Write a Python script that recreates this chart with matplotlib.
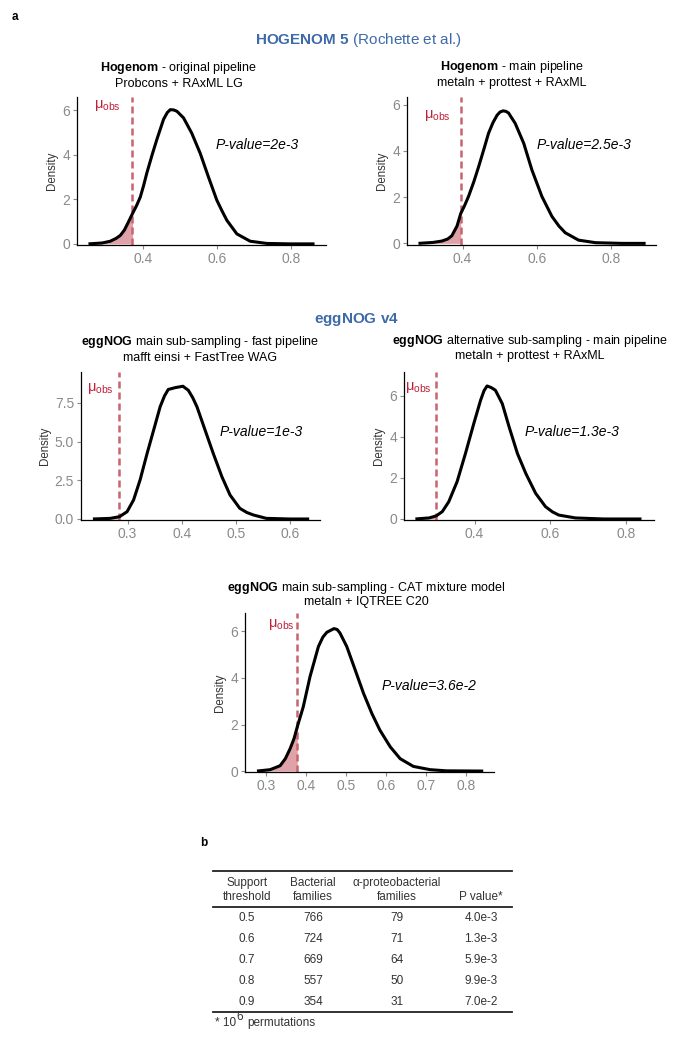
"""Permutation null distributions of mean alpha-proteobacterial support (figure panels a and b)."""
import matplotlib
matplotlib.use('Agg')
import matplotlib.pyplot as plt
import numpy as np

plt.rcParams['font.family'] = ['Liberation Sans', 'DejaVu Sans']
plt.rcParams['mathtext.fontset'] = 'custom'
plt.rcParams['mathtext.rm'] = 'Liberation Sans'
plt.rcParams['mathtext.bf'] = 'Liberation Sans:bold'
plt.rcParams['mathtext.it'] = 'Liberation Sans:italic'

W, H = 684, 1049

# density curves (x = mean support, y = density)
hog_orig_x = [0.253, 0.290, 0.312, 0.328, 0.339, 0.350, 0.360, 0.372, 0.383, 0.393, 0.402, 0.411, 0.425,
              0.438, 0.456, 0.466, 0.474, 0.483, 0.492, 0.510, 0.532, 0.555, 0.577, 0.600, 0.614, 0.627,
              0.654, 0.690, 0.735, 0.800, 0.864]
hog_orig_y = [0.00, 0.04, 0.12, 0.25, 0.38, 0.62, 0.95, 1.36, 1.72, 2.10, 2.62, 3.20, 4.00,
              4.70, 5.60, 5.90, 6.03, 6.02, 5.96, 5.66, 4.98, 4.07, 3.02, 1.96, 1.48, 1.06,
              0.45, 0.12, 0.02, 0.00, 0.00]

hog_main_x = [0.281, 0.320, 0.344, 0.360, 0.371, 0.385, 0.395, 0.405, 0.416, 0.430, 0.443, 0.458, 0.470,
              0.482, 0.493, 0.501, 0.509, 0.517, 0.524, 0.542, 0.565, 0.587, 0.614, 0.641, 0.660, 0.677,
              0.713, 0.759, 0.830, 0.894]
hog_main_y = [0.00, 0.04, 0.10, 0.19, 0.33, 0.75, 1.29, 1.62, 2.03, 2.65, 3.30, 4.10, 4.76,
              5.22, 5.54, 5.68, 5.73, 5.71, 5.64, 5.19, 4.33, 3.18, 2.03, 1.17, 0.75, 0.46,
              0.14, 0.03, 0.00, 0.00]

egg_fast_x = [0.236, 0.268, 0.285, 0.299, 0.311, 0.323, 0.336, 0.348, 0.360, 0.368, 0.375, 0.388,
              0.402, 0.412, 0.420, 0.428, 0.443, 0.458, 0.474, 0.489, 0.507, 0.520, 0.532, 0.556, 0.600, 0.635]
egg_fast_y = [0.00, 0.04, 0.15, 0.47, 1.23, 2.52, 4.24, 5.74, 7.25, 7.95, 8.37, 8.49,
              8.58, 8.32, 7.85, 7.25, 5.74, 4.24, 2.73, 1.55, 0.69, 0.42, 0.26, 0.04, 0.00, 0.00]

egg_alt_x = [0.244, 0.280, 0.299, 0.315, 0.332, 0.354, 0.376, 0.398, 0.416, 0.425, 0.433, 0.444,
             0.455, 0.473, 0.491, 0.513, 0.535, 0.561, 0.587, 0.605, 0.622, 0.666, 0.740, 0.840]
egg_alt_y = [0.00, 0.05, 0.15, 0.36, 0.84, 1.82, 3.19, 4.65, 5.79, 6.25, 6.48, 6.40,
             6.27, 5.62, 4.49, 3.19, 2.22, 1.25, 0.60, 0.35, 0.19, 0.05, 0.00, 0.00]

egg_cat_x = [0.277, 0.310, 0.335, 0.348, 0.360, 0.370, 0.378, 0.393, 0.410, 0.431, 0.442, 0.452, 0.462,
             0.470, 0.478, 0.485, 0.502, 0.523, 0.544, 0.565, 0.585, 0.611, 0.636, 0.669, 0.711, 0.752, 0.844]
egg_cat_y = [0.00, 0.06, 0.23, 0.53, 0.96, 1.40, 1.90, 2.76, 4.06, 5.35, 5.75, 5.96, 6.05,
             6.12, 6.08, 5.93, 5.35, 4.35, 3.34, 2.47, 1.76, 1.04, 0.53, 0.20, 0.06, 0.01, 0.00]

# observed means (dashed line) and p-values
mu_obs = [0.372, 0.395, 0.285, 0.299, 0.378]
p_values = ['2e-3', '2.5e-3', '1e-3', '1.3e-3', '3.6e-2']

titles_bold = ['Hogenom', 'Hogenom', 'eggNOG', 'eggNOG', 'eggNOG']
titles_rest = [' - original pipeline', ' - main pipeline', ' main sub-sampling - fast pipeline',
               ' alternative sub-sampling - main pipeline', ' main sub-sampling - CAT mixture model']
titles_line2 = ['Probcons + RAxML LG', 'metaln + prottest + RAxML', 'mafft einsi + FastTree WAG',
                'metaln + prottest + RAxML', 'metaln + IQTREE C20']

# table b
support_threshold = ['0.5', '0.6', '0.7', '0.8', '0.9']
bacterial_families = ['766', '724', '669', '557', '354']
alpha_families = ['79', '71', '64', '50', '31']
table_pvalues = ['4.0e-3', '1.3e-3', '5.9e-3', '9.9e-3', '7.0e-2']

BLUE = '#3d6aa8'
RED = '#c0203a'
VLINE = '#c8646e'
FILL = '#d98a92'
GREY = '#8a8a8a'

# layout: pixel boxes (left, right, top, bottom), axis limits, ticks, label spots
panels = [
    dict(x=hog_orig_x, y=hog_orig_y, box=(77, 326, 97, 245), xlim=(0.222, 0.895), ylim=(-0.05, 6.6),
         xt=[0.4, 0.6, 0.8], yt=[0, 2, 4, 6], ytl=None, mu=(0.305, 6.2), pv=(0.708, 4.45),
         title=(179, 68, 84)),
    dict(x=hog_main_x, y=hog_main_y, box=(407, 656, 97, 245), xlim=(0.250, 0.922), ylim=(-0.07, 6.33),
         xt=[0.4, 0.6, 0.8], yt=[0, 2, 4, 6], ytl=None, mu=(0.331, 5.55), pv=(0.727, 4.25),
         title=(512, 67, 83)),
    dict(x=egg_fast_x, y=egg_fast_y, box=(81, 320, 372, 520), xlim=(0.214, 0.655), ylim=(-0.065, 9.5),
         xt=[0.3, 0.4, 0.5, 0.6], yt=[0, 2.5, 5, 7.5], ytl=['0.0', '2.5', '5.0', '7.5'],
         mu=(0.250, 8.43), pv=(0.547, 5.63), title=(200, 342, 358)),
    dict(x=egg_alt_x, y=egg_alt_y, box=(404, 654, 372, 520), xlim=(0.214, 0.873), ylim=(-0.05, 7.16),
         xt=[0.4, 0.6, 0.8], yt=[0, 2, 4, 6], ytl=None, mu=(0.251, 6.4), pv=(0.658, 4.25),
         title=(530, 341, 356.5)),
    dict(x=egg_cat_x, y=egg_cat_y, box=(245, 494, 613, 772), xlim=(0.247, 0.871), ylim=(-0.04, 6.79),
         xt=[0.3, 0.4, 0.5, 0.6, 0.7, 0.8], yt=[0, 2, 4, 6], ytl=None, mu=(0.339, 6.29),
         pv=(0.707, 3.65), title=(366, 587.5, 601.5)),
]


def fx(px):
    return px / W


def fy(py):
    return 1 - py / H


fig = plt.figure(figsize=(W / 100, H / 100), dpi=100)

fig.text(fx(12), fy(17), 'a', fontsize=8.5, fontweight='bold', ha='left', va='center')
fig.text(fx(255), fy(40), r'$\mathbf{HOGENOM\ 5}$ (Rochette et al.)', fontsize=11,
         color=BLUE, ha='left', va='center')
fig.text(fx(356), fy(320), r'$\mathbf{eggNOG\ v4}$', fontsize=11, color=BLUE, ha='center', va='center')

for i, p in enumerate(panels):
    l, r, t, b = p['box']
    ax = fig.add_axes([fx(l), fy(b), (r - l) / W, (b - t) / H])
    x = np.array(p['x'])
    y = np.array(p['y'])
    mask = x <= mu_obs[i] + 1e-9
    ax.fill_between(x[mask], 0, y[mask], color=FILL, alpha=0.8, lw=0, zorder=1)
    ax.plot(x, y, color='black', lw=2.2, solid_capstyle='butt', solid_joinstyle='round', zorder=3)
    ax.axvline(mu_obs[i], color=VLINE, lw=1.8, ls=(0, (2.8, 1.6)), zorder=2)
    ax.set_xlim(*p['xlim'])
    ax.set_ylim(*p['ylim'])
    ax.set_xticks(p['xt'])
    ax.set_xticklabels([('%g' % v) for v in p['xt']])
    ax.set_yticks(p['yt'])
    if p['ytl'] is not None:
        ax.set_yticklabels(p['ytl'])
    ax.tick_params(axis='both', colors=GREY, labelsize=10, length=3, width=0.8, pad=2)
    for side in ('top', 'right'):
        ax.spines[side].set_visible(False)
    for side in ('left', 'bottom'):
        ax.spines[side].set_color('black')
        ax.spines[side].set_linewidth(0.9)
    ax.set_ylabel('Density', fontsize=8.3, color='#333333', labelpad=3)
    ax.text(p['mu'][0], p['mu'][1], r'$\mathrm{\mu_{obs}}$', color=RED, fontsize=10.5,
            ha='center', va='center')
    ax.text(p['pv'][0], p['pv'][1], 'P-value=' + p_values[i], fontsize=10, style='italic',
            ha='center', va='center')
    tx, ty1, ty2 = p['title']
    fig.text(fx(tx), fy(ty1), r'$\mathbf{' + titles_bold[i] + '}$' + titles_rest[i], fontsize=9,
             ha='center', va='center')
    fig.text(fx(tx), fy(ty2), titles_line2[i], fontsize=9, ha='center', va='center')

# panel b: table
fig.text(fx(200), fy(843), 'b', fontsize=8.5, fontweight='bold', ha='left', va='center')
tab = fig.add_axes([0, 0, 1, 1])
tab.set_xlim(0, W)
tab.set_ylim(H, 0)
tab.axis('off')
tab.plot([213, 512], [871, 871], color='#222222', lw=1.3)
tab.plot([213, 512], [907, 907], color='#222222', lw=1.3)
tab.plot([213, 512], [1012, 1012], color='#222222', lw=1.3)

col_x = [247, 313, 397, 481]
TXT = '#333333'
headers = [('Support', 'threshold'), ('Bacterial', 'families'), ('α-proteobacterial', 'families'),
           ('', 'P value*')]
for cx, (h1, h2) in zip(col_x, headers):
    tab.text(cx, 883, h1, fontsize=8.5, color=TXT, ha='center', va='center')
    tab.text(cx, 897.5, h2, fontsize=8.5, color=TXT, ha='center', va='center')

row_y = [918, 939, 960, 981, 1002]
for j, ry in enumerate(row_y):
    row = [support_threshold[j], bacterial_families[j], alpha_families[j], table_pvalues[j]]
    for cx, val in zip(col_x, row):
        tab.text(cx, ry, val, fontsize=8.5, color=TXT, ha='center', va='center')

# footnote with a large superscript like the original
tab.text(215, 1023, '* 10', fontsize=8.5, color=TXT, ha='left', va='center')
tab.text(236.5, 1017.5, '6', fontsize=8.5, color=TXT, ha='left', va='center')
tab.text(247, 1023, 'permutations', fontsize=8.5, color=TXT, ha='left', va='center')

fig.savefig('out.png', dpi=100)
